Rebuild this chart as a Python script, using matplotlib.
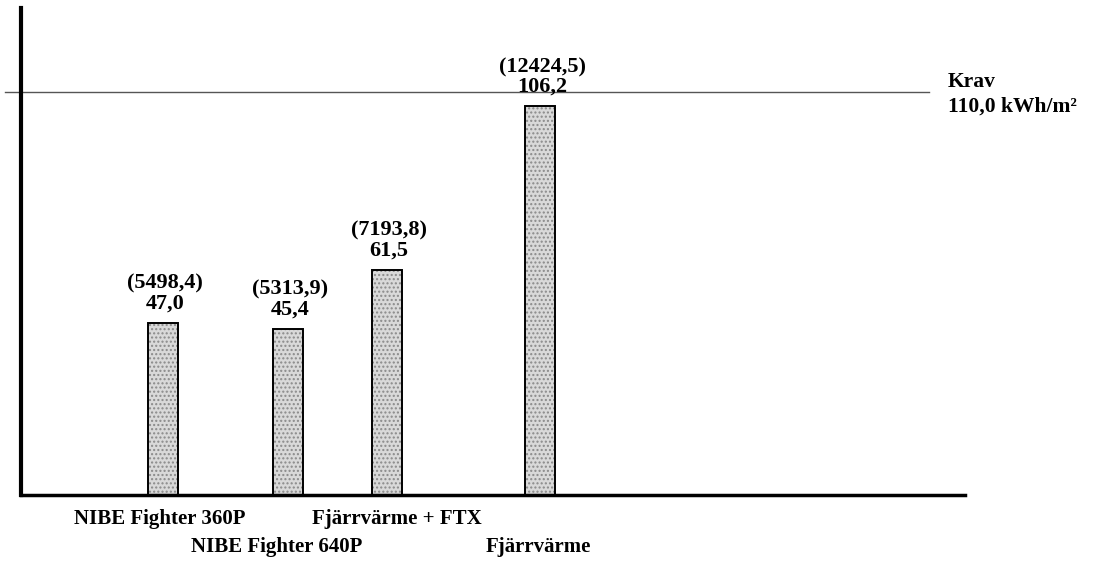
import matplotlib
matplotlib.use("Agg")
from matplotlib import pyplot as plt

# data
systems = ["NIBE Fighter 360P", "NIBE Fighter 640P", "Fjärrvärme + FTX", "Fjärrvärme"]
energy_kwh_m2 = [47.0, 45.4, 61.5, 106.2]
energy_kwh = ["5498,4", "5313,9", "7193,8", "12424,5"]
krav = 110.0

# bar layout (uneven spacing as in the original)
xpos = [1.42, 2.67, 3.66, 5.19]
label_dx = [-0.03, -0.11, 0.10, -0.02]
label_row = [0, 1, 0, 1]

plt.rcParams['font.family'] = ['Liberation Serif', 'DejaVu Serif']
plt.rcParams['font.weight'] = 'bold'

fig = plt.figure(figsize=(10.95, 5.75), dpi=100)
ax = fig.add_axes([0.0192, 0.139, 0.8621, 0.847])
ax.set_xlim(0, 9.44)
ax.set_ylim(0, 133)

# stippled gray fill, then black outline on top
ax.bar(xpos, energy_kwh_m2, width=0.30, color="#d9d9d9", edgecolor="#8a8a8a",
       hatch="....", linewidth=0, zorder=2)
ax.bar(xpos, energy_kwh_m2, width=0.30, fill=False, edgecolor="black",
       linewidth=1.4, zorder=3)

for x, v, e in zip(xpos, energy_kwh_m2, energy_kwh):
    ax.text(x + 0.02, v + 2.5, "(%s)\n%s" % (e, ("%.1f" % v).replace(".", ",")),
            ha="center", va="bottom", fontsize=16, linespacing=1.0, zorder=4)

# requirement line
ax.axhline(krav, xmin=-0.017, xmax=0.962, color="#555555", linewidth=1.0,
           clip_on=False, zorder=1)
ax.text(9.27, krav + 0.2, "Krav", fontsize=15.5, ha="left", va="bottom")
ax.text(9.27, krav - 1.3, "110,0 kWh/m²", fontsize=15.5, ha="left", va="top")

# category labels below the axis, alternating rows
for x, name, dx, row in zip(xpos, systems, label_dx, label_row):
    ax.text(x + dx, -6.5 - row * 7.6, name, ha="center", va="center",
            fontsize=15, clip_on=False)

for side in ["top", "right"]:
    ax.spines[side].set_visible(False)
ax.spines["left"].set_linewidth(3)
ax.spines["bottom"].set_linewidth(2.5)
ax.set_xticks([])
ax.set_yticks([])

fig.savefig("out.png", dpi=100)
